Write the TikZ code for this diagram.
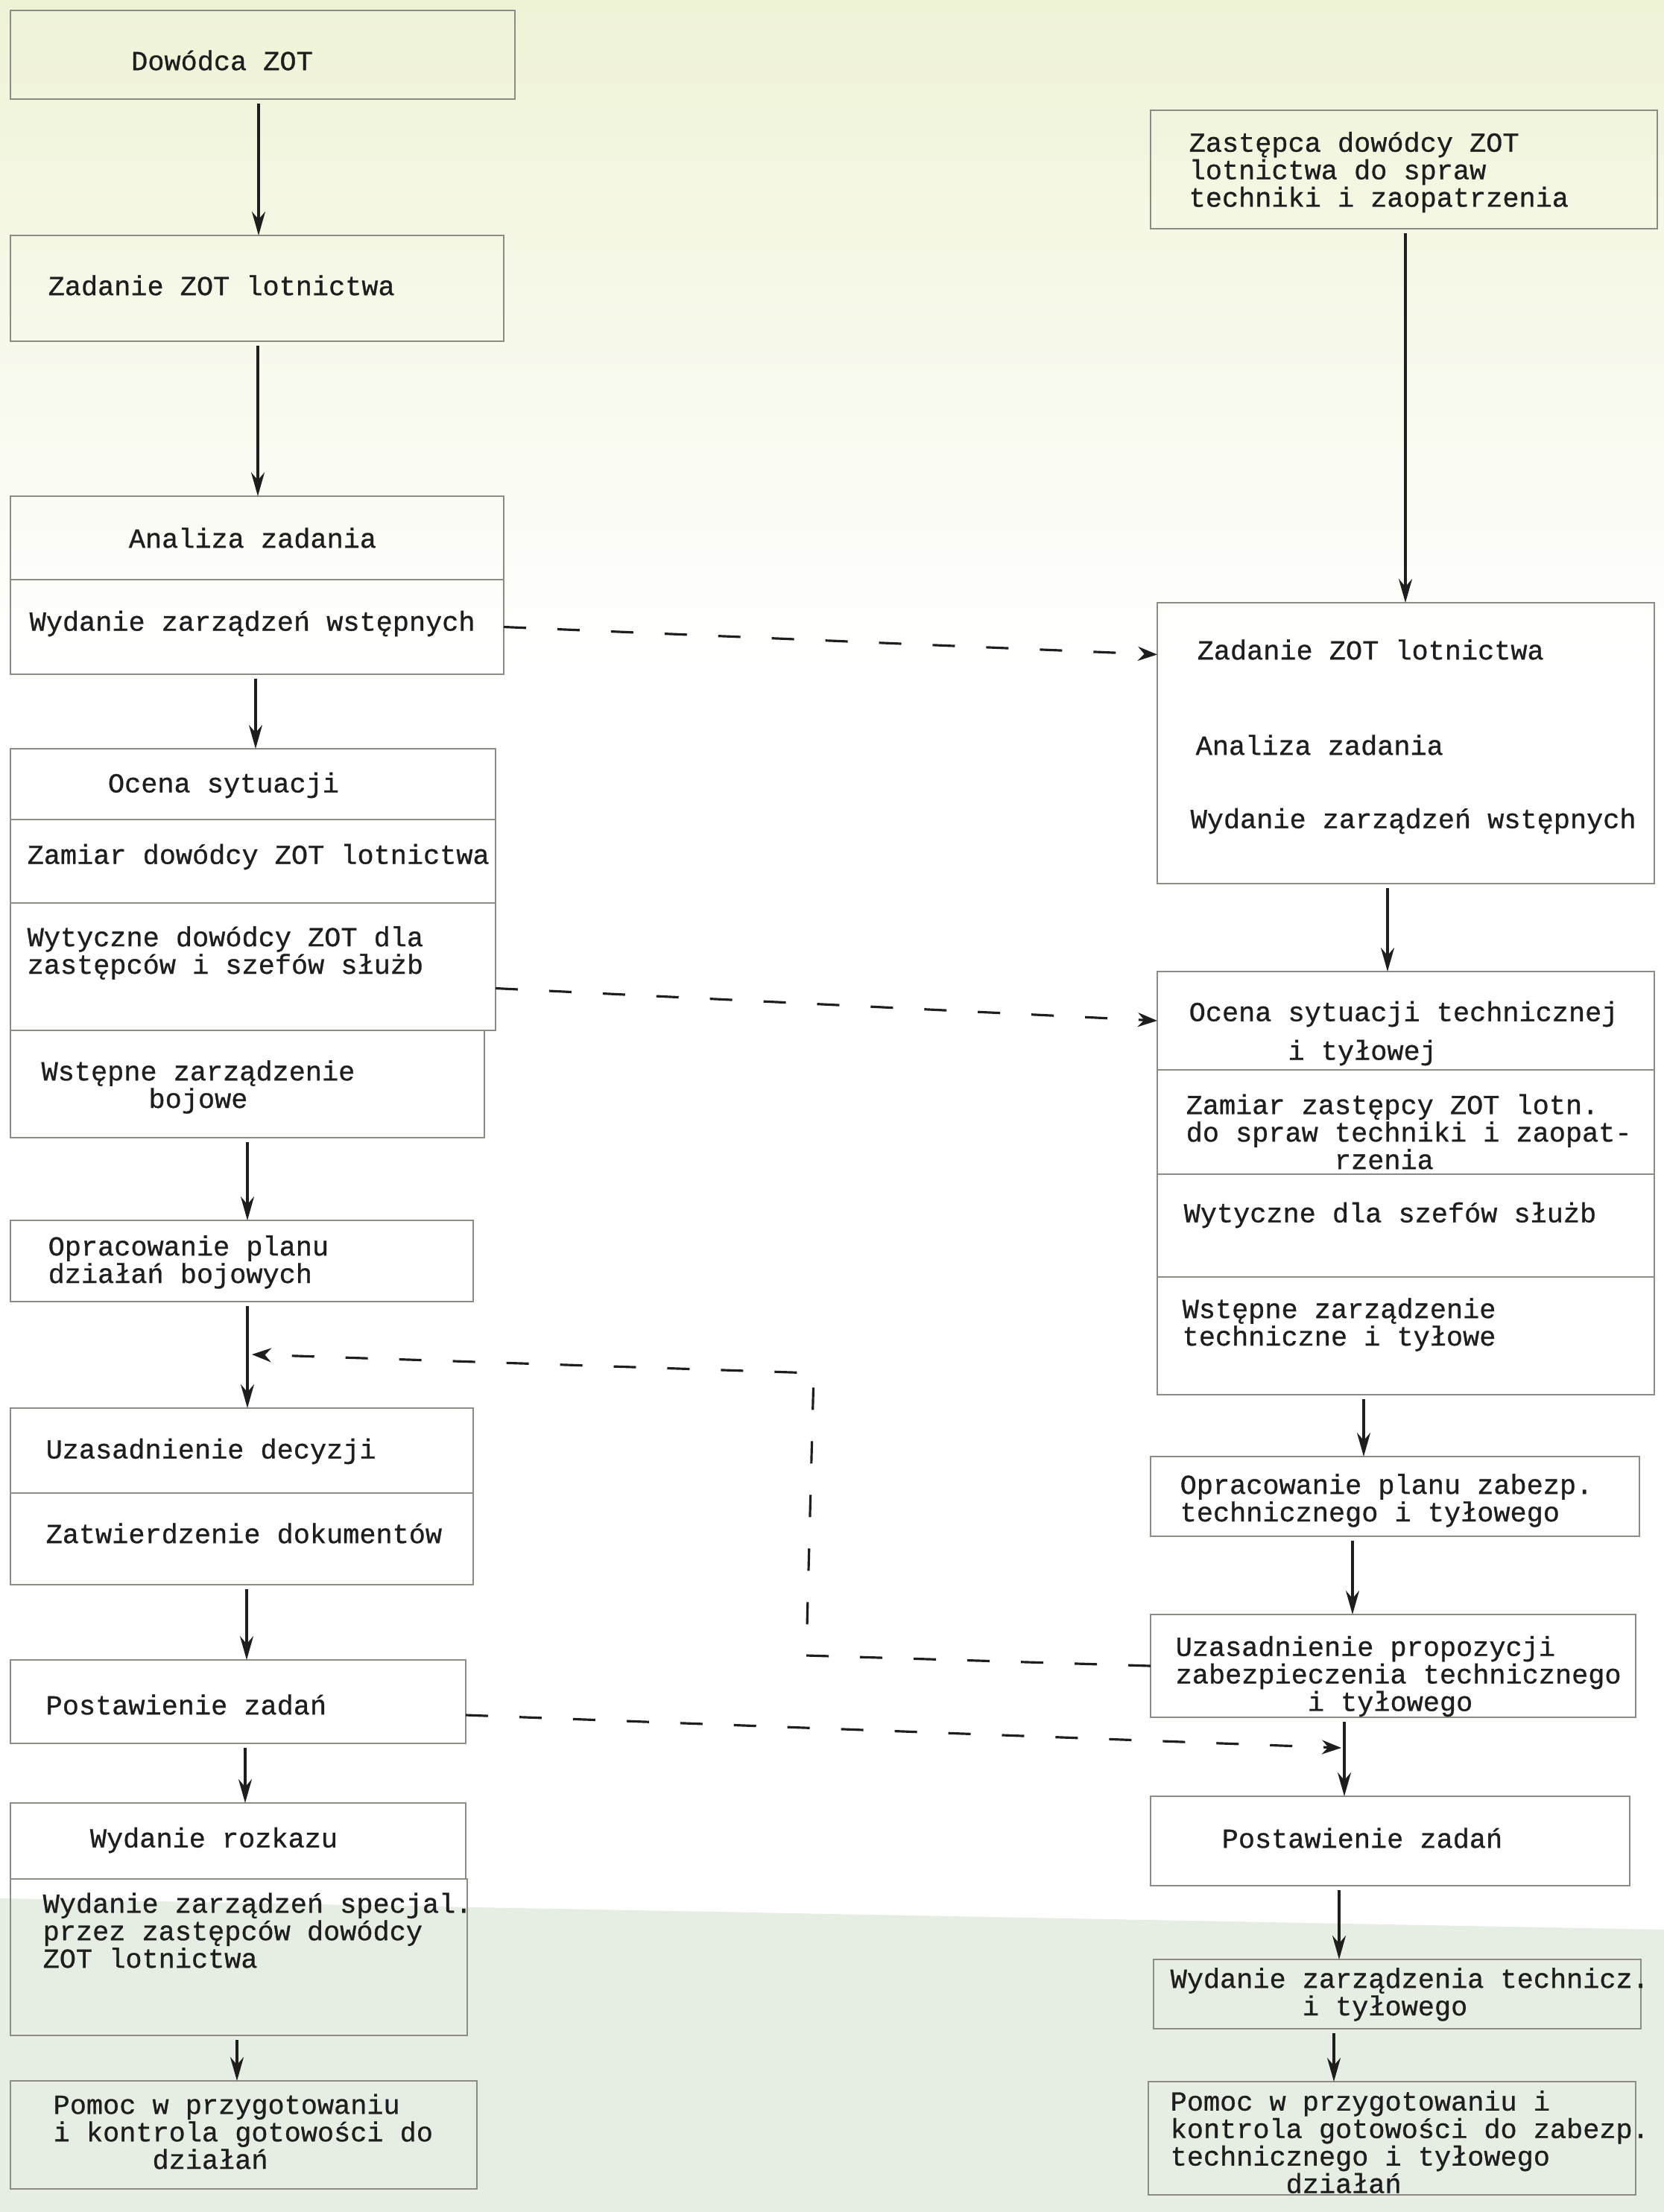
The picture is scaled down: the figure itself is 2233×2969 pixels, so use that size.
\documentclass[tikz,border=0pt]{standalone}
\usepackage{fontspec}
\setmainfont{Liberation Mono}[UprightFeatures={FakeBold=0.8}]
\usetikzlibrary{arrows.meta,fit}
\definecolor{paperA}{HTML}{EFF3D6}
\definecolor{paperB}{HTML}{E6EDE2}
\definecolor{boxline}{HTML}{8C8C84}
\definecolor{ink}{HTML}{1E1E1E}
\newcommand\ind[1]{\hspace*{\dimexpr #1em*6/10\relax}}
\begin{document}
\begin{tikzpicture}[x=0.1mm,y=-0.1mm,
  font=\fontsize{10.5pt}{10.5pt}\selectfont,
  cell/.style={draw=boxline,line width=0.5pt,inner sep=0pt,outer sep=0pt},
  txt/.style={inner sep=0pt,anchor=west,align=left,text=ink},
  ctxt/.style={inner sep=0pt,align=center,text=ink},
  arr/.style={draw=ink,line width=0.9pt,shorten <=0.6mm,-{Stealth[length=3.2mm,width=1.8mm]}},
  dsh/.style={draw=ink,line width=0.9pt,dash pattern=on 3mm off 4.2mm,-{Stealth[length=2.6mm,width=1.9mm]}},
  dshn/.style={draw=ink,line width=0.9pt,dash pattern=on 3mm off 4.2mm}]
\useasboundingbox (0,0) rectangle (2233,2969);
% paper
\fill[white] (0,0) rectangle (2233,2969);
\shade[top color=paperA,bottom color=white] (0,0) rectangle (2233,900);
\fill[paperB] (0,2548) -- (2233,2590) -- (2233,2969) -- (0,2969) -- cycle;

% ---------- left column boxes ----------
\node[cell,fit={(14,14) (691,133)}] (L1) {};
\node[cell,fit={(14,316) (676,458)}] (L2) {};
\node[cell,fit={(14,666) (676,778)}] (L3) {};
\node[cell,fit={(14,778) (676,905)}] (L4) {};
\node[cell,fit={(14,1005) (665,1100)}] (L5) {};
\node[cell,fit={(14,1100) (665,1212)}] (L6) {};
\node[cell,fit={(14,1212) (665,1383)}] (L7) {};
\node[cell,fit={(14,1383) (650,1527)}] (L8) {};
\node[cell,fit={(14,1638) (635,1747)}] (L9) {};
\node[cell,fit={(14,1890) (635,2004)}] (L10) {};
\node[cell,fit={(14,2004) (635,2127)}] (L11) {};
\node[cell,fit={(14,2228) (625,2340)}] (L12) {};
\node[cell,fit={(14,2420) (625,2522)}] (L13) {};
\node[cell,fit={(14,2522) (627,2732)}] (L14) {};
\node[cell,fit={(14,2793) (640,2938)}] (L15) {};

% ---------- left column texts ----------
\node[ctxt] (T1) at (298,81) {Dowódca ZOT};
\node[txt] (T2) at (64,383) {Zadanie ZOT lotnictwa};
\node[ctxt] (T3) at (339,722) {Analiza zadania};
\node[txt] (T4) at (39,837) {Wydanie zarządzeń wstępnych};
\node[ctxt] (T5) at (300,1054) {Ocena sytuacji};
\node[txt] (T6) at (36,1150) {Zamiar dowódcy ZOT lotnictwa};
\node[txt] (T7) at (36,1279) {Wytyczne dowódcy ZOT dla\\zastępców i szefów służb};
\node[ctxt] (T8) at (266,1459) {Wstępne zarządzenie\\bojowe};
\node[txt] (T9) at (64,1694) {Opracowanie planu\\działań bojowych};
\node[txt] (T10) at (61,1948) {Uzasadnienie decyzji};
\node[txt] (T11) at (61,2058) {Zatwierdzenie dokumentów};
\node[txt] (T12) at (61,2288) {Postawienie zadań};
\node[ctxt] (T13) at (287,2470) {Wydanie rozkazu};
\node[txt] (T14) at (57,2591) {Wydanie zarządzeń specjal.\\przez zastępców dowódcy\\ZOT lotnictwa};
\node[txt] (T15) at (71,2861) {Pomoc w przygotowaniu\\i kontrola gotowości do\\\ind{6}działań};

% ---------- right column boxes ----------
\node[cell,fit={(1544,148) (2224,307)}] (R1) {};
\node[cell,fit={(1553,809) (2220,1186)}] (R2) {};
\node[cell,fit={(1553,1304) (2220,1436)}] (R3a) {};
\node[cell,fit={(1553,1436) (2220,1576)}] (R3b) {};
\node[cell,fit={(1553,1576) (2220,1714)}] (R3c) {};
\node[cell,fit={(1553,1714) (2220,1872)}] (R3d) {};
\node[cell,fit={(1544,1955) (2200,2062)}] (R4) {};
\node[cell,fit={(1544,2167) (2195,2305)}] (R5) {};
\node[cell,fit={(1544,2411) (2187,2531)}] (R6) {};
\node[cell,fit={(1548,2630) (2202,2723)}] (R7) {};
\node[cell,fit={(1541,2794) (2195,2946)}] (R8) {};

% ---------- right column texts ----------
\node[txt] (RT1) at (1595,231) {Zastępca dowódcy ZOT\\lotnictwa do spraw\\techniki i zaopatrzenia};
\node[txt] (RT2a) at (1606,872) {Zadanie ZOT lotnictwa};
\node[txt] (RT2b) at (1604,1000) {Analiza zadania};
\node[txt] (RT2c) at (1597,1102) {Wydanie zarządzeń wstępnych};
\node[txt] (RT3a) at (1595,1387) {Ocena sytuacji technicznej\\[1.5mm]\ind{6}i tyłowej};
\node[txt] (RT3b) at (1591,1519) {Zamiar zastępcy ZOT lotn.\\do spraw techniki i zaopat-\\\ind{9}rzenia};
\node[txt] (RT3c) at (1588,1631) {Wytyczne dla szefów służb};
\node[txt] (RT3d) at (1586,1778) {Wstępne zarządzenie\\techniczne i tyłowe};
\node[txt] (RT4) at (1583,2014) {Opracowanie planu zabezp.\\technicznego i tyłowego};
\node[txt] (RT5) at (1577,2250) {Uzasadnienie propozycji\\zabezpieczenia technicznego\\\ind{8}i tyłowego};
\node[ctxt] (RT6) at (1828,2467) {Postawienie zadań};
\node[txt] (RT7) at (1570,2677) {Wydanie zarządzenia technicz.\\\ind{8}i tyłowego};
\node[txt] (RT8) at (1570,2875) {Pomoc w przygotowaniu i\\kontrola gotowości do zabezp.\\technicznego i tyłowego\\\ind{7}działań};

% ---------- arrow columns ----------
\coordinate (xa1) at (347,0);
\coordinate (xa2) at (346,0);
\coordinate (xa3) at (343,0);
\coordinate (xa4) at (332,0);
\coordinate (xa6) at (331,0);
\coordinate (xa7) at (329,0);
\coordinate (xa8) at (318,0);
\coordinate (xr1) at (1886,0);
\coordinate (xr2) at (1862,0);
\coordinate (xr3) at (1830,0);
\coordinate (xr4) at (1815,0);
\coordinate (xr5) at (1804,0);
\coordinate (xr6) at (1797,0);
\coordinate (xr7) at (1790,0);

% left arrows
\draw[arr] (L1.south -| xa1) -- (L2.north -| xa1);
\draw[arr] (L2.south -| xa2) -- (L3.north -| xa2);
\draw[arr] (L4.south -| xa3) -- (L5.north -| xa3);
\draw[arr] (L8.south -| xa4) -- (L9.north -| xa4);
\draw[arr] (L9.south -| xa4) -- (L10.north -| xa4);
\draw[arr] (L11.south -| xa6) -- (L12.north -| xa6);
\draw[arr] (L12.south -| xa7) -- (L13.north -| xa7);
\draw[arr] (L14.south -| xa8) -- (L15.north -| xa8);

% right arrows
\draw[arr] (R1.south -| xr1) -- (R2.north -| xr1);
\draw[arr] (R2.south -| xr2) -- (R3a.north -| xr2);
\draw[arr] (R3d.south -| xr3) -- (R4.north -| xr3);
\draw[arr] (R4.south -| xr4) -- (R5.north -| xr4);
\draw[arr] (R5.south -| xr5) -- (R6.north -| xr5);
\draw[arr] (R6.south -| xr6) -- (R7.north -| xr6);
\draw[arr] (R7.south -| xr7) -- (R8.north -| xr7);

% ---------- dashed connectors ----------
\draw[dsh] (L4.east) -- ([yshift=11.9mm]R2.west);
\draw[dsh] ([yshift=-2.9mm]L7.east) -- (R3a.west);
\coordinate (d3a) at (1082,2222);
\coordinate (d3b) at (1092,1843);
\coordinate (d3e) at (338,1818);
\draw[dsh] (R5.west) -- (d3a) -- (d3b) -- (d3e);
\coordinate (d4e) at (1800,2346);
\draw[dsh] ([yshift=-1.8mm]L12.east) -- (d4e);
\end{tikzpicture}
\end{document}
